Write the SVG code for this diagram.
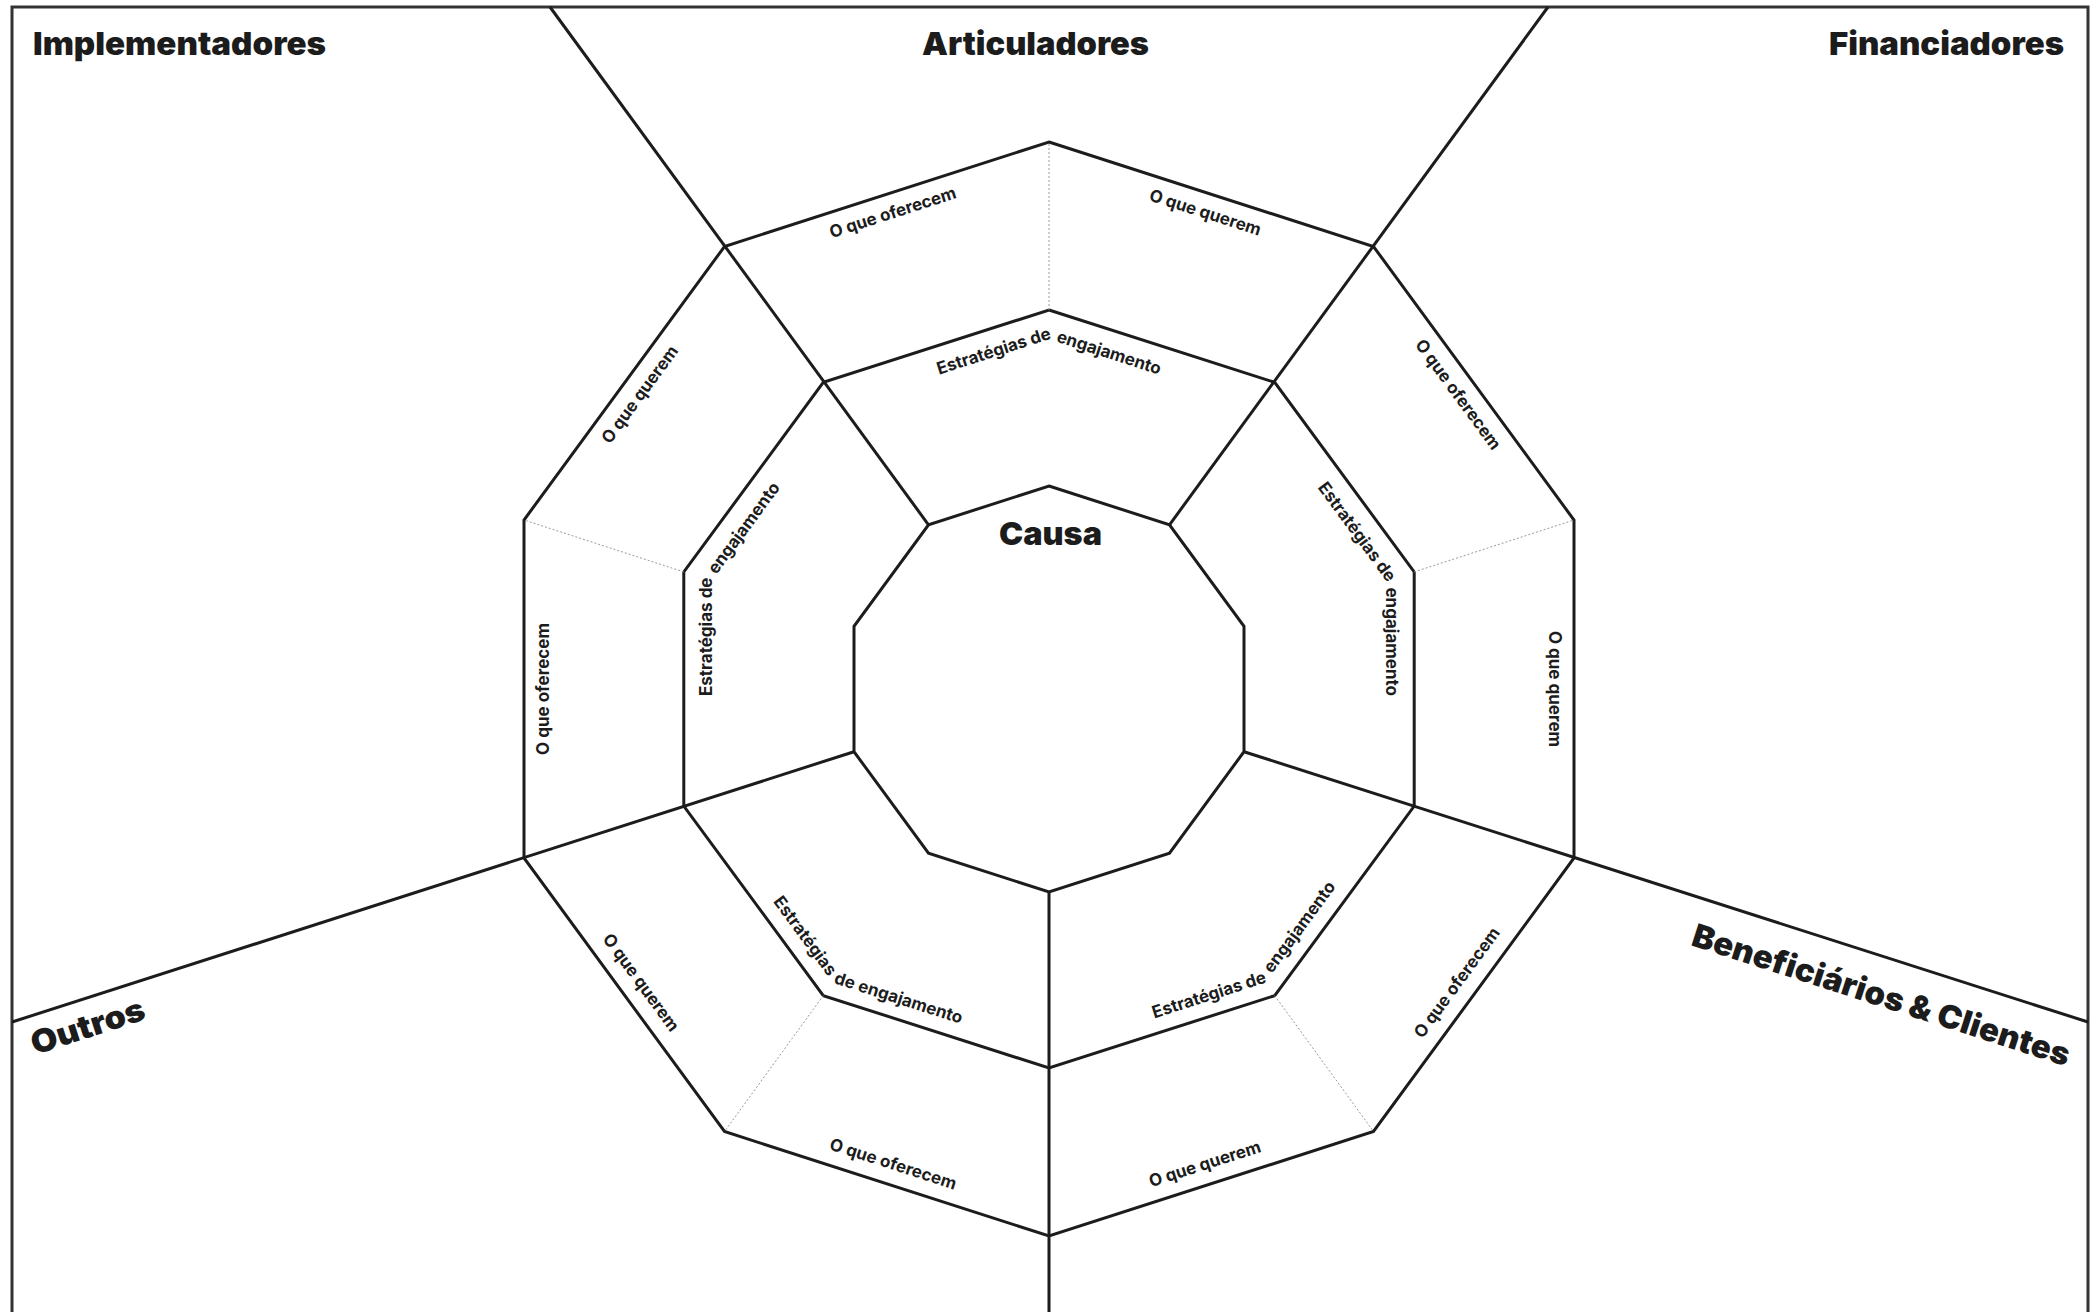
<svg xmlns="http://www.w3.org/2000/svg" width="2096" height="1312" viewBox="0 0 2096 1312">
<style>
.ln{fill:none;stroke:#1c1c1c;stroke-width:3;stroke-linejoin:miter}
.fr{fill:none;stroke:#333;stroke-width:3}
.dot{fill:none;stroke:#9a9a9a;stroke-width:1;stroke-dasharray:2 2}
.h{font-family:Inter,"Liberation Sans",sans-serif;font-weight:900;font-size:32px;fill:#1c1c1c}
.s{font-family:Inter,"Liberation Sans",sans-serif;font-weight:700;font-size:17px;fill:#1c1c1c}
</style>
<defs>
<path id="p1" d="M740,267.7 L1049,168.3"/>
<path id="p2" d="M1049,168.3 L1358,267.7"/>
<path id="p3" d="M1358,267.7 L1549,528.1"/>
<path id="p4" d="M1549,528.1 L1549,849.9"/>
<path id="p5" d="M1364.2,1118.7 L1559,853.2"/>
<path id="p6" d="M1049,1220.2 L1364.2,1118.7"/>
<path id="p7" d="M733.8,1118.7 L1049,1220.2"/>
<path id="p8" d="M539,853.2 L733.8,1118.7"/>
<path id="p9" d="M549,849.9 L549,528.1"/>
<path id="p10" d="M549,528.1 L740,267.7"/>
<path id="eA" d="M840.6,406.2 L1049,339.4 L1257.4,406.2"/>
<path id="eB" d="M1257.4,406.2 L1386.2,581 L1386.2,797"/>
<path id="eC" d="M1049,1052.2 L1265.4,982.8 L1399.2,801.2"/>
<path id="eD" d="M698.8,801.2 L832.6,982.8 L1049,1052.2"/>
<path id="eE" d="M711.8,797 L711.8,581 L840.6,406.2"/>
</defs>
<rect width="2096" height="1312" fill="#fff"/>
<g id="frame">
<path class="fr" d="M12,1312 V7 H2088 V1312"/>
</g>
<g id="connectors">
<polygon class="ln" points="1049,486 1169.5,524.8 1244,626.3 1244,751.7 1169.5,853.2 1049,892 928.5,853.2 854,751.7 854,626.3 928.5,524.8"/>
<polygon class="ln" points="1049,310 1274.7,382.4 1414.2,571.9 1414.2,806.1 1274.7,995.6 1049,1068 823.3,995.6 683.8,806.1 683.8,571.9 823.3,382.4"/>
<polygon class="ln" points="1049,142 1373.5,246.5 1574,520 1574,858 1373.5,1131.5 1049,1236 724.5,1131.5 524,858 524,520 724.5,246.5"/>
<path class="ln" d="M928.5,524.8 L550,7"/>
<path class="ln" d="M1169.5,524.8 L1548,7"/>
<path class="ln" d="M854,751.7 L12,1022"/>
<path class="ln" d="M1244,751.7 L2088,1022"/>
<path class="ln" d="M1049,892 L1049,1312"/>
<path class="dot" d="M1049,310 L1049,142"/>
<path class="dot" d="M1414.2,571.9 L1574,520"/>
<path class="dot" d="M1274.7,995.6 L1373.5,1131.5"/>
<path class="dot" d="M823.3,995.6 L724.5,1131.5"/>
<path class="dot" d="M683.8,571.9 L524,520"/>
</g>
<g id="causa">
<text class="h" x="999" y="545" font-size="33" textLength="103" lengthAdjust="spacingAndGlyphs">Causa</text>
</g>
<g id="articuladores">
<text class="h" x="922" y="55" textLength="227" lengthAdjust="spacingAndGlyphs">Articuladores</text>
<text class="s" text-anchor="middle"><textPath href="#p1" startOffset="50%">O que oferecem</textPath></text>
<text class="s" text-anchor="middle"><textPath href="#p2" startOffset="50%">O que querem</textPath></text>
<text class="s" text-anchor="middle"><textPath href="#eA" startOffset="50%">Estratégias de engajamento</textPath></text>
</g>
<g id="financiadores">
<text class="h" x="1829" y="55" textLength="235" lengthAdjust="spacingAndGlyphs">Financiadores</text>
<text class="s" text-anchor="middle"><textPath href="#p3" startOffset="50%">O que oferecem</textPath></text>
<text class="s" text-anchor="middle"><textPath href="#p4" startOffset="50%">O que querem</textPath></text>
<text class="s" text-anchor="middle"><textPath href="#eB" startOffset="50%">Estratégias de engajamento</textPath></text>
</g>
<g id="beneficiarios">
<text class="h" transform="translate(1690,945) rotate(17.9)" textLength="395" lengthAdjust="spacingAndGlyphs">Beneficiários &amp; Clientes</text>
<text class="s" text-anchor="middle"><textPath href="#p5" startOffset="50%">O que oferecem</textPath></text>
<text class="s" text-anchor="middle"><textPath href="#p6" startOffset="50%">O que querem</textPath></text>
<text class="s" text-anchor="middle"><textPath href="#eC" startOffset="50.5%">Estratégias de <tspan dx="5">engajamento</tspan></textPath></text>
</g>
<g id="outros">
<text class="h" transform="translate(35,1055) rotate(-17.9)" textLength="118" lengthAdjust="spacingAndGlyphs">Outros</text>
<text class="s" text-anchor="middle"><textPath href="#p7" startOffset="50%">O que oferecem</textPath></text>
<text class="s" text-anchor="middle"><textPath href="#p8" startOffset="50%">O que querem</textPath></text>
<text class="s" text-anchor="middle"><textPath href="#eD" startOffset="53.5%">Estratégias <tspan dx="4">de engajamento</tspan></textPath></text>
</g>
<g id="implementadores">
<text class="h" x="33" y="55" textLength="293" lengthAdjust="spacingAndGlyphs">Implementadores</text>
<text class="s" text-anchor="middle"><textPath href="#p9" startOffset="50%">O que oferecem</textPath></text>
<text class="s" text-anchor="middle"><textPath href="#p10" startOffset="50%">O que querem</textPath></text>
<text class="s" text-anchor="middle"><textPath href="#eE" startOffset="50%">Estratégias de engajamento</textPath></text>
</g>
</svg>
